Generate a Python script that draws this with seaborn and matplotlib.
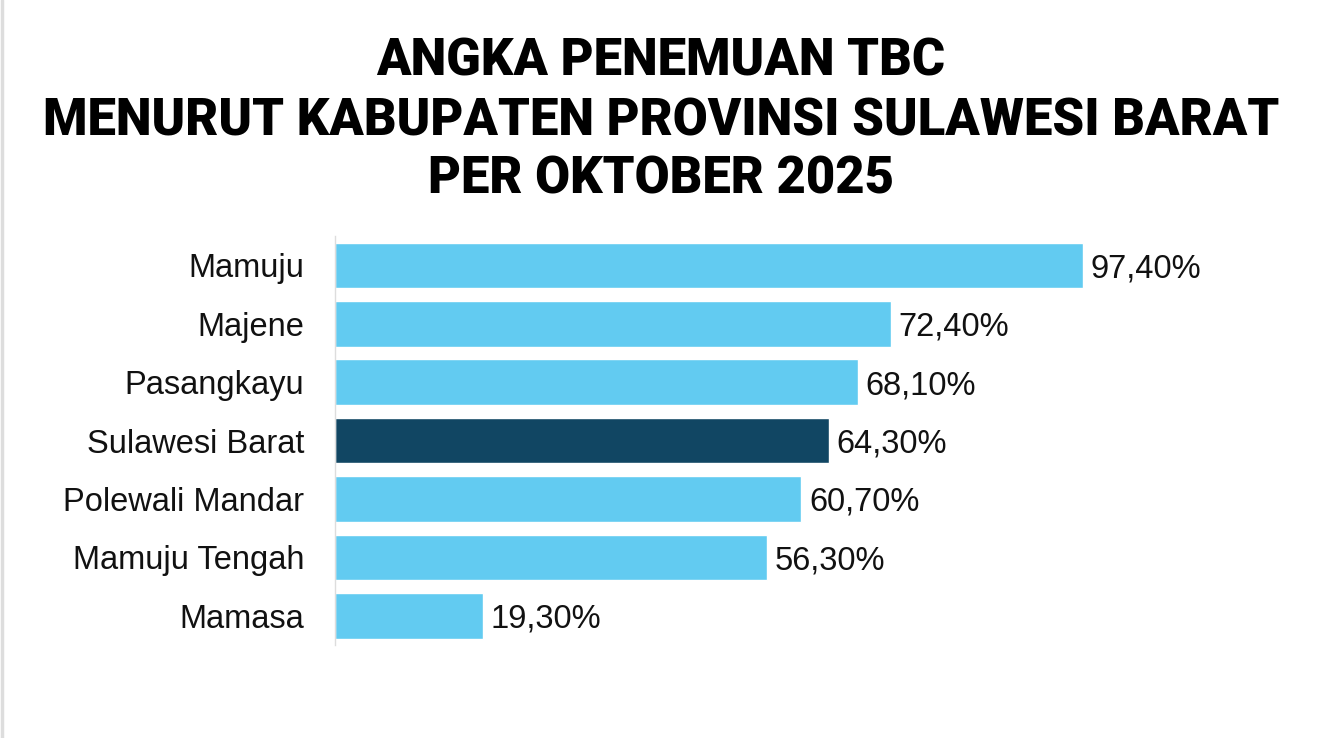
import matplotlib
matplotlib.use('Agg')
import matplotlib.pyplot as plt
import seaborn as sns
import pandas as pd
from matplotlib.lines import Line2D

kabupaten = ['Mamuju', 'Majene', 'Pasangkayu', 'Sulawesi Barat',
             'Polewali Mandar', 'Mamuju Tengah', 'Mamasa']
persen = [97.4, 72.4, 68.1, 64.3, 60.7, 56.3, 19.3]
label_nilai = ['97,40%', '72,40%', '68,10%', '64,30%', '60,70%', '56,30%', '19,30%']
judul = ['ANGKA PENEMUAN TBC',
         'MENURUT KABUPATEN PROVINSI SULAWESI BARAT',
         'PER OKTOBER 2025']

df = pd.DataFrame({'kabupaten': kabupaten, 'persen': persen})
warna = ['#114663' if k == 'Sulawesi Barat' else '#62CBF1' for k in kabupaten]

sns.set_theme(style='white')
plt.rcParams['font.family'] = ['Liberation Sans', 'DejaVu Sans']

fig = plt.figure(figsize=(13.22, 7.38), dpi=100)
ax = fig.add_axes([0.2534, 0.126, 0.581, 0.554])

sns.barplot(data=df, x='persen', y='kabupaten', hue='kabupaten',
            palette=warna, legend=False, width=0.78, saturation=1, ax=ax)

for i, (v, t) in enumerate(zip(persen, label_nilai)):
    ax.text(v + 1.0, i, t, va='center_baseline', ha='left', fontsize=23.5, color='#111111')

ax.set_xlim(0, 100)
ax.set_ylim(6.5, -0.5)
ax.set_xlabel('')
ax.set_ylabel('')
ax.set_xticks([])
ax.tick_params(axis='y', length=0, pad=22, labelsize=23.5, labelcolor='#111111')
for lbl in ax.get_yticklabels():
    lbl.set_verticalalignment('center_baseline')
for s in ['top', 'right', 'bottom']:
    ax.spines[s].set_visible(False)
ax.spines['left'].set_color('#dddddd')
ax.spines['left'].set_linewidth(1)

# judul tiga baris
for baris, yb in zip(judul, [0.898, 0.817, 0.738]):
    fig.text(0.5, yb, baris, ha='center', va='baseline', fontsize=36.5,
             fontweight='black', family=['Roboto', 'DejaVu Sans'], color='black')

fig.add_artist(Line2D([0.0015, 0.0015], [0, 1], color='#dddddd', lw=2.5,
                      transform=fig.transFigure))

fig.savefig('out.png', dpi=100, facecolor='white')
